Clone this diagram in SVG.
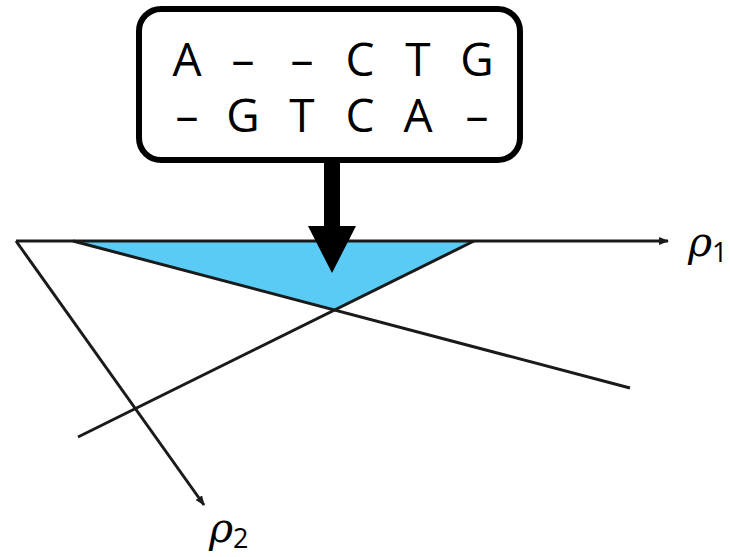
<svg xmlns="http://www.w3.org/2000/svg" width="730" height="557" viewBox="0 0 730 557">
<style>
.ln{stroke:#1a1a1a;stroke-width:3;fill:none;stroke-linecap:butt}
.seq{font-family:"Open Sans","Noto Sans",sans-serif;font-size:46px;fill:#000;text-anchor:middle}
.rho{font-family:"DejaVu Serif","Liberation Serif",serif;font-style:italic;font-size:41px;fill:#000}
.sub{font-family:"Open Sans","Noto Sans",sans-serif;font-size:27px;fill:#000}
</style>
<defs>
<marker id="ah" markerWidth="10" markerHeight="8" refX="9" refY="4" orient="auto" markerUnits="userSpaceOnUse">
<path d="M0,0 L10,4 L0,8 Z" fill="#1a1a1a"/>
</marker>
</defs>
<g id="region">
<polygon points="73,241 474,241 335,310" fill="#59CBF5"/>
</g>
<g id="connectors">
<line class="ln" x1="16" y1="241" x2="668" y2="241" marker-end="url(#ah)"/>
<line class="ln" x1="16" y1="241" x2="204" y2="505" marker-end="url(#ah)"/>
<line class="ln" x1="73" y1="241" x2="630" y2="388"/>
<line class="ln" x1="78" y1="437" x2="474" y2="241"/>
</g>
<g id="alignment">
<rect x="139" y="9" width="381" height="151" rx="22" ry="22" fill="#fff" stroke="#000" stroke-width="6"/>
<text class="seq" y="76"><tspan x="187">A</tspan><tspan x="243">–</tspan><tspan x="302">–</tspan><tspan x="360">C</tspan><tspan x="418">T</tspan><tspan x="477">G</tspan></text>
<text class="seq" y="132"><tspan x="187">–</tspan><tspan x="243">G</tspan><tspan x="302">T</tspan><tspan x="360">C</tspan><tspan x="418">A</tspan><tspan x="477">–</tspan></text>
</g>
<g id="big-arrow">
<rect x="324" y="162" width="16" height="66" fill="#000"/>
<polygon points="308,226 356,226 332,273" fill="#000"/>
</g>
<g id="rho1">
<text x="688" y="256"><tspan class="rho">ρ</tspan><tspan class="sub" dy="6">1</tspan></text>
</g>
<g id="rho2">
<text x="209" y="542"><tspan class="rho">ρ</tspan><tspan class="sub" dy="6">2</tspan></text>
</g>
</svg>
